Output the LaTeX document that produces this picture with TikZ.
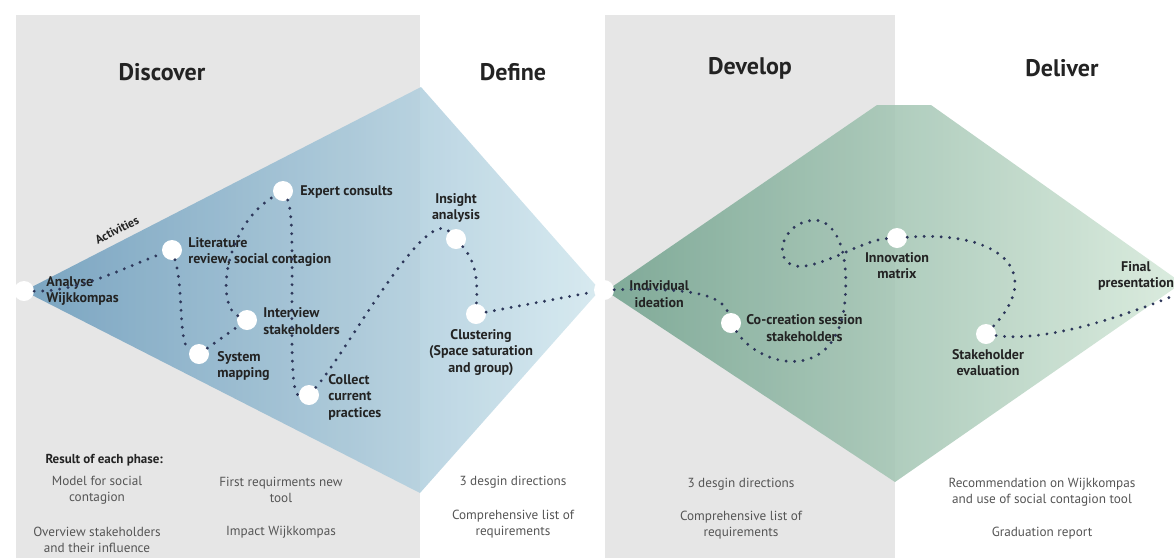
\documentclass[tikz,border=0pt]{standalone}
\usepackage{fontspec}
\setmainfont{PT Sans}
\usetikzlibrary{positioning}

\definecolor{panelgray}{RGB}{230,230,230}
\definecolor{blueleft}{RGB}{108,156,188}
\definecolor{blueright}{RGB}{210,231,238}
\definecolor{greenleft}{RGB}{114,162,142}
\definecolor{greenright}{RGB}{214,233,218}
\definecolor{dotblue}{RGB}{45,55,90}
\definecolor{labeltext}{RGB}{35,35,35}
\definecolor{resulttext}{RGB}{85,85,85}

\tikzset{
  phase/.style={font=\fontsize{24}{28}\selectfont\bfseries, text=labeltext},
  waypoint/.style={circle, fill=white, minimum size=20pt, inner sep=0pt},
  activity/.style={font=\fontsize{14}{16.5}\selectfont\bfseries, text=labeltext,
    align=left, inner sep=0pt},
  result/.style={font=\fontsize{13.2}{16.5}\selectfont, text=resulttext, align=center},
  trail/.style={dotblue, line width=3.2pt, line cap=round, dash pattern=on 0pt off 8.5pt},
}

\begin{document}
\begin{tikzpicture}[x=1pt, y=-1pt]
  \useasboundingbox (0,0) rectangle (1174,558);

  % phase panels
  \fill[panelgray] (16,15) rectangle (420,558);
  \fill[panelgray] (605,15) rectangle (895,558);

  % diamonds
  \shade[left color=blueleft, right color=blueright, fill opacity=0.88]
    (24,291) -- (421,87) -- (600,290) -- (420,493) -- cycle;
  \shade[left color=greenleft, right color=greenright, fill opacity=0.88]
    (606,291) -- (877,105) -- (931,105) -- (1182,283) -- (895,482) -- cycle;

  % headings
  \node[phase] (discover) at (162,72) {Discover};
  \node[phase] (define) at (513,72) {Define};
  \node[phase] (develop) at (750,68) {Develop};
  \node[phase] (deliver) at (1062,68) {Deliver};

  \node[font=\fontsize{12}{14}\selectfont\bfseries, text=labeltext, rotate=27]
    (activities) at (117,230) {Activities};

  % activities
  \node[waypoint] (analyse) at (24,291) {};
  \node[waypoint] (lit) at (172,250) {};
  \node[waypoint] (expert) at (283,191) {};
  \node[waypoint] (interview) at (247,320) {};
  \node[waypoint] (sysmap) at (199,354) {};
  \node[waypoint] (collect) at (309,395) {};
  \node[waypoint] (insight) at (456,239) {};
  \node[waypoint] (cluster) at (476,314) {};
  \node[waypoint] (junction) at (604,290) {};
  \node[waypoint] (cocreate) at (731,323) {};
  \node[waypoint] (innov) at (897,238) {};
  \node[waypoint] (evaluate) at (986,334) {};
  \coordinate (exit) at (1178,294);

  \node[activity, right=12pt of analyse] (analyselbl) {Analyse\\Wijkkompas};
  \node[activity, right=6pt of lit, yshift=-2pt] (litlbl) {Literature\\review, social contagion};
  \node[activity, right=7pt of expert, yshift=-1pt] (expertlbl) {Expert consults};
  \node[activity, right=6pt of interview, yshift=-1pt] (interviewlbl) {Interview\\stakeholders};
  \node[activity, right=8pt of sysmap, yshift=-12pt] (sysmaplbl) {System\\mapping};
  \node[activity, right=9pt of collect, yshift=-2pt] (collectlbl) {Collect\\current\\practices};
  \node[activity, align=center, above=6pt of insight] (insightlbl) {Insight\\analysis};
  \node[activity, align=center, below=5pt of cluster, xshift=5pt] (clusterlbl)
    {Clustering\\(Space saturation\\and group)};
  \node[activity, align=center, right=15pt of junction, yshift=-4pt] (ideationlbl) {Individual\\ideation};
  \node[activity, align=center, right=5pt of cocreate, yshift=-5pt] (cocreatelbl)
    {Co-creation session\\stakeholders};
  \node[activity, align=center, below=4pt of innov] (innovlbl) {Innovation\\matrix};
  \node[activity, align=center, below=5pt of evaluate, xshift=2pt] (evaluatelbl)
    {Stakeholder\\evaluation};
  \node[activity, align=center] (finallbl) at (1136,276) {Final\\presentation};

  % the route through the activities
  \draw[trail] (analyse) .. controls (80,292) and (130,265) .. (lit)
    .. controls (184,290) and (178,345) .. (sysmap)
    -- (interview)
    .. controls (215,305) and (225,225) .. (expert)
    .. controls (298,220) and (285,395) .. (collect)
    .. controls (345,355) and (425,205) .. (insight)
    .. controls (479,265) and (477,290) .. (cluster)
    -- (junction)
    .. controls (680,288) and (722,292) .. (cocreate)
    .. controls (760,368) and (838,385) .. (845,300)
    .. controls (850,240) and (830,215) .. (808,221)
    .. controls (775,228) and (772,275) .. (810,265)
    .. controls (835,260) and (865,240) .. (innov)
    .. controls (1000,230) and (1045,272) .. (evaluate)
    .. controls (1040,342) and (1110,322) .. (exit);

  % results
  \node[font=\fontsize{13}{15}\selectfont\bfseries, text=labeltext, anchor=west]
    (resulthead) at (42,460) {Result of each phase:};
  \node[result] (model) at (97,490) {Model for social\\contagion};
  \node[result] (firstreq) at (281,490) {First requirments new\\tool};
  \node[result] (overview) at (97,540) {Overview stakeholders\\and their influence};
  \node[result] (impact) at (281,532) {Impact Wijkkompas};
  \node[result] (defdirs) at (513,482) {3 desgin directions};
  \node[result] (deflist) at (513,524) {Comprehensive list of\\requirements};
  \node[result] (devdirs) at (741,484) {3 desgin directions};
  \node[result] (devlist) at (741,525) {Comprehensive list of\\requirements};
  \node[result] (recommend) at (1042,492) {Recommendation on Wijkkompas\\and use of social contagion tool};
  \node[result] (report) at (1042,533) {Graduation report};
\end{tikzpicture}
\end{document}
